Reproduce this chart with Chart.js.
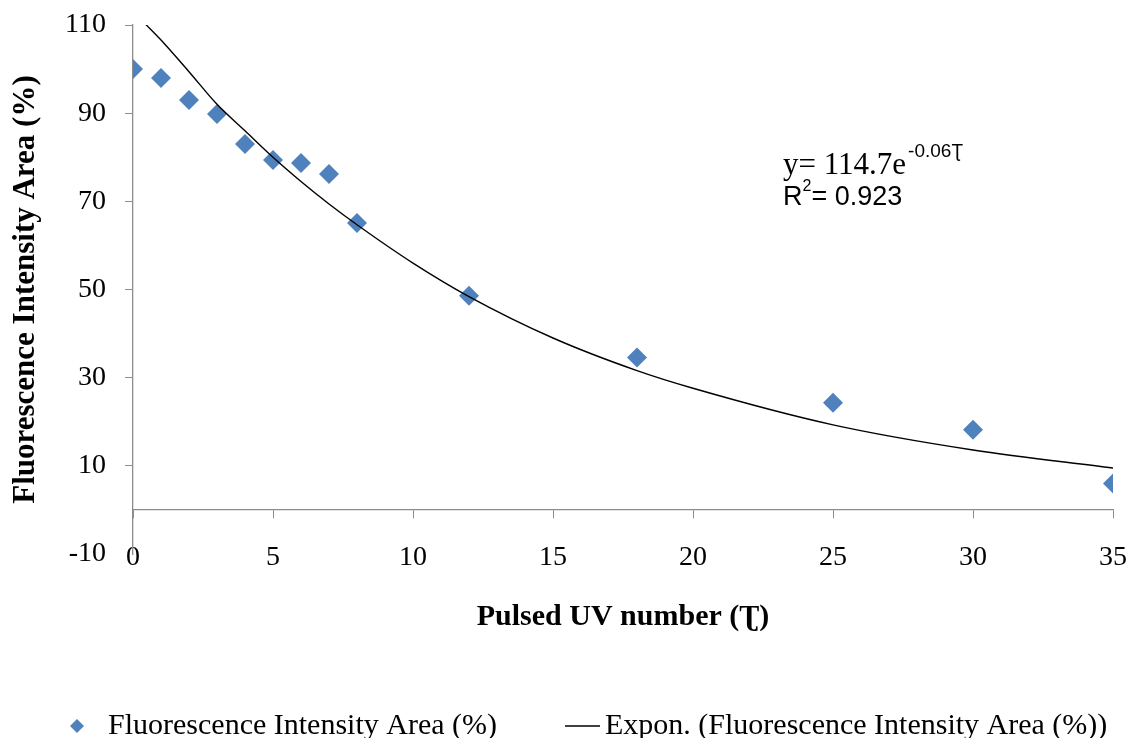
<!DOCTYPE html>
<html>
<head>
<meta charset="utf-8">
<script src="https://cdn.jsdelivr.net/npm/chart.js@4"></script>
<style>
  body { margin: 0; background: #fff; }
  #wrap { width: 1129px; height: 738px; position: relative; }
</style>
</head>
<body>
<div id="wrap"><canvas id="chart"></canvas></div>
<script>
// measured points
const pulseX = [0, 1, 2, 3, 4, 5, 6, 7, 8, 12, 18, 25, 30, 35];
const intensity = [100, 98, 93, 89.8, 83, 79.4, 78.7, 76.2, 65.1, 48.6, 34.6, 24.3, 18.2, 6];

// exponential trend line
const trendX = [0.4, 1, 2, 3, 4, 5, 6, 7, 8, 10, 12, 15, 18, 20, 25, 30, 35];
const trendY = [110.5, 106.6, 99.4, 92, 86, 80, 74.5, 69.4, 64.7, 56, 48.4, 39, 31.6, 27.6, 19.3, 13.6, 9.5];

const xTicks = [0, 5, 10, 15, 20, 25, 30, 35];
const yTicks = [-10, 10, 30, 50, 70, 90, 110];

const blue = "#4f81bd";
const axisGray = "#8c8c8c";
const serif = "'Liberation Serif', 'Times New Roman', serif";
const sans = "'Liberation Sans', Arial, sans-serif";

// legend markers (wide boxes so the gap between the two items matches)
const boxW = 88;
const diamondImg = document.createElement("canvas");
diamondImg.width = 88; diamondImg.height = 16;
(() => {
  const c = diamondImg.getContext("2d");
  const cx = 72;
  c.fillStyle = blue;
  c.beginPath();
  c.moveTo(cx, 1); c.lineTo(cx + 7, 8); c.lineTo(cx, 15); c.lineTo(cx - 7, 8);
  c.closePath(); c.fill();
})();
const lineImg = document.createElement("canvas");
lineImg.width = 120; lineImg.height = 4;
(() => {
  const c = lineImg.getContext("2d");
  c.strokeStyle = "#000"; c.lineWidth = 1.5;
  c.beginPath(); c.moveTo(79, 2); c.lineTo(114, 2); c.stroke();
})();

// equation text in the upper right
const equationPlugin = {
  id: "equation",
  afterDraw(chart) {
    const ctx = chart.ctx;
    ctx.save();
    ctx.fillStyle = "#000";
    ctx.textBaseline = "alphabetic";
    ctx.textAlign = "left";
    let x = 783;
    ctx.font = "31px " + serif;
    ctx.fillText("y= 114.7e", x, 174);
    x += ctx.measureText("y= 114.7e").width + 2;
    ctx.font = "19px " + sans;
    ctx.fillText("-0.06\u01AE", x, 157);

    x = 783;
    ctx.font = "27px " + sans;
    ctx.fillText("R", x, 205);
    x += ctx.measureText("R").width;
    ctx.font = "16px " + sans;
    ctx.fillText("2", x, 191);
    x += ctx.measureText("2").width;
    ctx.font = "27px " + sans;
    ctx.fillText("= 0.923", x, 205);
    ctx.restore();
  }
};

new Chart(document.getElementById("chart"), {
  type: "scatter",
  data: {
    datasets: [
      {
        label: "Fluorescence Intensity Area (%)",
        data: pulseX.map((x, i) => ({ x, y: intensity[i] })),
        pointStyle: "rectRot",
        pointRadius: 10,
        pointBackgroundColor: blue,
        pointBorderColor: blue,
        pointBorderWidth: 0,
        order: 1
      },
      {
        label: "Expon. (Fluorescence Intensity Area (%))",
        data: trendX.map((x, i) => ({ x, y: trendY[i] })),
        showLine: true,
        borderColor: "#000",
        borderWidth: 1.4,
        pointRadius: 0,
        cubicInterpolationMode: "monotone",
        order: 0
      }
    ]
  },
  options: {
    responsive: true,
    maintainAspectRatio: false,
    animation: false,
    layout: { padding: { top: 25, left: 0, right: 16, bottom: 0 } },
    scales: {
      x: {
        type: "linear",
        position: "bottom",
        min: 0,
        max: 35,
        afterBuildTicks: s => { s.ticks = xTicks.map(v => ({ value: v })); },
        afterFit: s => { s.height = 152; },
        grid: { display: false, drawTicks: false },
        border: { display: false },
        // mirrored so the labels are not clipped to the axis box
        ticks: { color: "#000", mirror: true, padding: -20, font: { family: serif, size: 28 } },
        title: {
          display: true,
          text: "Pulsed UV number (\u01AE)",
          color: "#000",
          padding: { top: 0, bottom: 71 },
          font: { family: serif, size: 30, weight: "bold" }
        }
      },
      x2: {
        type: "linear",
        axis: "x",
        position: { y: 0 },
        min: 0,
        max: 35,
        afterBuildTicks: s => { s.ticks = xTicks.map(v => ({ value: v })); },
        grid: { display: true, drawOnChartArea: false, drawTicks: true, tickLength: 8, color: axisGray },
        border: { display: true, color: axisGray, width: 1.3 },
        ticks: { display: false }
      },
      y: {
        type: "linear",
        min: -10,
        max: 110,
        afterBuildTicks: s => { s.ticks = yTicks.map(v => ({ value: v })); },
        afterFit: s => { s.width = 133; s.paddingTop = 10; s.paddingBottom = 10; },
        grid: {
          display: true, drawOnChartArea: false, drawTicks: true, tickLength: 8,
          color: c => (c.tick && c.tick.value === -10 ? "rgba(0,0,0,0)" : axisGray)
        },
        border: { display: true, color: axisGray, width: 1.3 },
        ticks: { color: "#000", padding: 19, font: { family: serif, size: 28 } },
        title: {
          display: true,
          text: "Fluorescence Intensity Area (%)",
          color: "#000",
          padding: { top: 7, bottom: 0 },
          font: { family: serif, size: 31, weight: "bold" }
        }
      }
    },
    plugins: {
      tooltip: { enabled: false },
      legend: {
        position: "bottom",
        align: "start",
        maxHeight: 32,
        labels: {
          usePointStyle: true,
          pointStyleWidth: boxW,
          padding: 5,
          color: "#000",
          font: { family: serif, size: 30 },
          generateLabels: () => [
            { text: "Fluorescence Intensity Area (%)", pointStyle: diamondImg, fillStyle: blue, strokeStyle: blue, fontColor: "#000", lineWidth: 0, hidden: false, datasetIndex: 0 },
            { text: "Expon. (Fluorescence Intensity Area (%))", pointStyle: lineImg, fillStyle: "#000", strokeStyle: "#000", fontColor: "#000", lineWidth: 0, hidden: false, datasetIndex: 1 }
          ]
        }
      }
    }
  },
  plugins: [equationPlugin]
});
</script>
</body>
</html>
